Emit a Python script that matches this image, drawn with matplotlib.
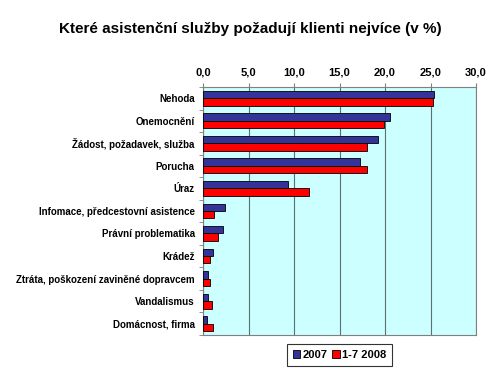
import matplotlib.pyplot as plt
import numpy as np

plt.rcParams['font.family'] = ['Liberation Sans', 'DejaVu Sans']

# Data (v %)
kategorie = ["Nehoda", "Onemocnění", "Žádost, požadavek, služba", "Porucha", "Úraz",
             "Infomace, předcestovní asistence", "Právní problematika", "Krádež",
             "Ztráta, poškození zaviněné dopravcem", "Vandalismus", "Domácnost, firma"]
hodnoty_2007 = [25.4, 20.6, 19.2, 17.2, 9.3, 2.4, 2.2, 1.05, 0.55, 0.55, 0.45]
hodnoty_2008 = [25.3, 19.9, 18.0, 18.0, 11.6, 1.2, 1.6, 0.75, 0.75, 0.95, 1.1]

fig = plt.figure(figsize=(5, 3.75), dpi=100)
ax = fig.add_axes([0.406, 0.107, 0.546, 0.661])

y = np.arange(len(kategorie))
h = 0.33
ax.barh(y - h / 2, hodnoty_2007, height=h, color="#333399", edgecolor="black", linewidth=0.6, label="2007", zorder=3)
ax.barh(y + h / 2, hodnoty_2008, height=h, color="#FF0000", edgecolor="black", linewidth=0.6, label="1-7 2008", zorder=3)

ax.set_xlim(0, 30)
ax.set_ylim(len(kategorie) - 0.5, -0.5)
ax.set_facecolor("#CCFFFF")
ax.set_xticks(np.arange(0, 31, 5))
ax.set_xticklabels([f"{v:.1f}".replace(".", ",") for v in range(0, 31, 5)], fontsize=8, fontweight="bold")
ax.xaxis.tick_top()
ax.set_yticks(y)
ax.set_yticklabels(kategorie, fontsize=7, fontweight="bold")
ax.set_yticks(np.arange(-0.5, len(kategorie)), minor=True)
ax.tick_params(axis="y", which="major", length=0, pad=6)
ax.tick_params(axis="y", which="minor", length=3, color="gray")
ax.tick_params(axis="x", length=3, color="gray", pad=4)
ax.grid(axis="x", color="#5f6f6f", linewidth=0.8, zorder=0)
for s in ax.spines.values():
    s.set_color("#808080")

fig.text(0.5, 0.923, "Které asistenční služby požadují klienti nejvíce (v %)", ha="center", va="center",
         fontsize=11, fontweight="bold")

leg = ax.legend(loc="upper center", bbox_to_anchor=(0.5, -0.036), ncol=2,
                prop={"weight": "bold", "size": 8}, frameon=True, fancybox=False,
                edgecolor="black", handlelength=0.7, handleheight=0.7, handletextpad=0.2,
                columnspacing=0.4, borderpad=0.55, borderaxespad=0)
leg.get_frame().set_linewidth(0.8)

plt.savefig("out.png", dpi=100)
